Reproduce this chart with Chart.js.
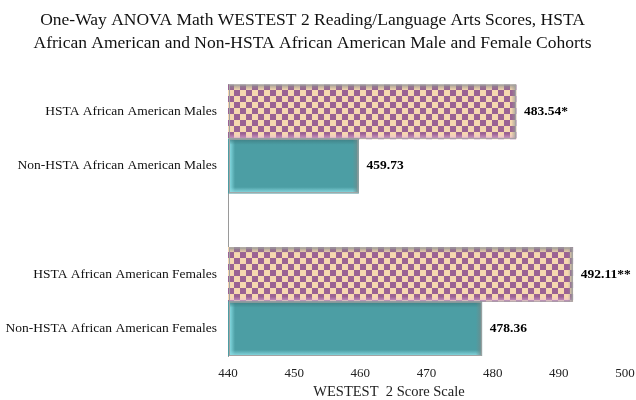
<!DOCTYPE html>
<html><head><meta charset="utf-8">
<script src="https://cdn.jsdelivr.net/npm/chart.js@4"></script>
<style>html,body{margin:0;padding:0;background:#fff}#wrap{width:636px;height:400px}</style>
</head><body><div id="wrap"><canvas id="c" width="636" height="400"></canvas></div>
<script>
const titleLines = ['One-Way ANOVA Math WESTEST 2 Reading/Language Arts Scores, HSTA',
                    'African American and Non-HSTA African American Male and Female Cohorts'];
const categories = ['HSTA African American Males', 'Non-HSTA African American Males', '',
                    'HSTA African American Females', 'Non-HSTA African American Females'];
const scores = [483.54, 459.73, null, 492.11, 478.36];
const valueLabels = ['483.54*', '459.73', '', '492.11**', '478.36'];
const cohortType = ['HSTA', 'Non-HSTA', '', 'HSTA', 'Non-HSTA'];
const xTicks = [440, 450, 460, 470, 480, 490, 500];
const xTitle = 'WESTEST  2 Score Scale';

const SERIF = "'Liberation Serif', 'Times New Roman', serif";
const PURPLE = '#9b6293', PEACH = '#f6d7b0', TEAL = '#4c9ea4';

function checker() {
  const c = document.createElement('canvas');
  c.width = 12; c.height = 12;
  const g = c.getContext('2d');
  g.fillStyle = PEACH; g.fillRect(0, 0, 12, 12);
  g.fillStyle = PURPLE; g.fillRect(0, 0, 6, 6); g.fillRect(6, 6, 6, 6);
  return g.createPattern(c, 'repeat');
}
const ctx = document.getElementById('c').getContext('2d');
const pat = checker();
const fills = cohortType.map(t => t === 'HSTA' ? pat : TEAL);

const bevel = {
  id: 'bevel',
  afterDatasetsDraw(chart) {
    const g = chart.ctx;
    const meta = chart.getDatasetMeta(0);
    meta.data.forEach((el, i) => {
      if (scores[i] == null) return;
      const p = el.getProps(['x', 'y', 'base', 'height'], true);
      const L = Math.max(p.base, chart.chartArea.left) + 1, R = p.x, T = p.y - p.height / 2, B = p.y + p.height / 2;
      g.save();
      if (cohortType[i] === 'HSTA') {
        let gr = g.createLinearGradient(0, T, 0, T + 6);
        gr.addColorStop(0, 'rgba(140,140,140,0.75)'); gr.addColorStop(1, 'rgba(140,140,140,0)');
        g.fillStyle = gr; g.fillRect(L, T, R - L, 6);
        gr = g.createLinearGradient(0, B - 5, 0, B);
        gr.addColorStop(0, 'rgba(240,190,230,0)'); gr.addColorStop(1, 'rgba(230,170,220,0.7)');
        g.fillStyle = gr; g.fillRect(L, B - 5, R - L, 5);
        gr = g.createLinearGradient(R - 5, 0, R, 0);
        gr.addColorStop(0, 'rgba(150,150,150,0)'); gr.addColorStop(1, 'rgba(150,150,150,0.8)');
        g.fillStyle = gr; g.fillRect(R - 5, T, 5, B - T);
      } else {
        let gr = g.createLinearGradient(L, 0, L + 6, 0);
        gr.addColorStop(0, 'rgba(140,225,232,1)'); gr.addColorStop(1, 'rgba(140,225,232,0)');
        g.fillStyle = gr; g.fillRect(L, T, 6, B - T);
        gr = g.createLinearGradient(0, B - 6, 0, B);
        gr.addColorStop(0, 'rgba(140,220,228,0)'); gr.addColorStop(1, 'rgba(140,220,228,1)');
        g.fillStyle = gr; g.fillRect(L, B - 6, R - L, 6);
        gr = g.createLinearGradient(0, T, 0, T + 6);
        gr.addColorStop(0, 'rgba(60,120,125,0.8)'); gr.addColorStop(1, 'rgba(60,120,125,0)');
        g.fillStyle = gr; g.fillRect(L, T, R - L, 6);
        gr = g.createLinearGradient(R - 6, 0, R, 0);
        gr.addColorStop(0, 'rgba(110,140,140,0)'); gr.addColorStop(1, 'rgba(110,140,140,0.9)');
        g.fillStyle = gr; g.fillRect(R - 6, T, 6, B - T);
      }
      g.strokeStyle = '#a3a3a3'; g.lineWidth = 1;
      g.strokeRect(L + 0.5, T + 0.5, R - L - 1, B - T - 1);
      g.restore();
    });
  },
  afterDraw(chart) {
    const g = chart.ctx;
    const meta = chart.getDatasetMeta(0);
    g.save();
    g.font = 'bold 13.5px ' + SERIF;
    g.fillStyle = '#000';
    g.textBaseline = 'middle';
    g.textAlign = 'left';
    meta.data.forEach((el, i) => {
      if (scores[i] == null) return;
      g.fillText(valueLabels[i], el.x + 8, el.y);
    });
    g.font = '14.5px ' + SERIF;
    g.fillStyle = '#222';
    g.textAlign = 'center';
    g.fillText(xTitle, 389, 392);
    g.restore();
  }
};

new Chart(ctx, {
  type: 'bar',
  data: {
    labels: categories,
    datasets: [{
      data: scores,
      backgroundColor: fills,
      borderWidth: 0,
      categoryPercentage: 1.0,
      barPercentage: 1.0
    }]
  },
  options: {
    indexAxis: 'y',
    responsive: false,
    animation: false,
    devicePixelRatio: 1,
    layout: { padding: { left: 0, right: 11, top: 0, bottom: 0 } },
    plugins: {
      legend: { display: false },
      tooltip: { enabled: false },
      title: {
        display: true,
        text: titleLines,
        color: '#111',
        font: { family: SERIF, size: 17.5, weight: 'normal', lineHeight: 1.3 },
        padding: { top: 9, bottom: 30 }
      }
    },
    scales: {
      x: {
        type: 'linear',
        min: xTicks[0], max: xTicks[xTicks.length - 1],
        afterBuildTicks: s => { s.ticks = xTicks.map(v => ({ value: v })); },
        grid: { display: false, drawTicks: false },
        border: { display: false },
        ticks: { color: '#222', font: { family: SERIF, size: 13 }, padding: 10 },
        afterFit: s => { s.height = 44; s.paddingRight = 0; s.paddingLeft = 0; }
      },
      y: {
        grid: { display: false, drawTicks: false },
        border: { display: true, color: '#9a9a9a', width: 1 },
        ticks: { color: '#111', font: { family: SERIF, size: 13.5 }, padding: 11, autoSkip: false },
        afterFit: s => { s.width = 228; }
      }
    }
  },
  plugins: [bevel]
});
</script></body></html>
